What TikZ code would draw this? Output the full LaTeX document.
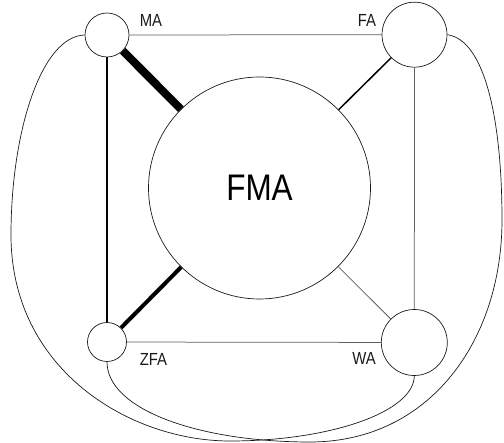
\documentclass[tikz,border=0pt]{standalone}
\usepackage{fontspec}
\setmainfont[FakeStretch=0.85]{Liberation Sans}
\usepackage{tikz}
\usetikzlibrary{calc}
\definecolor{ink}{HTML}{1A1A1A}
\definecolor{faint}{HTML}{5E5E5E}
\tikzset{
  agent/.style={circle, draw=ink, line width=0.7pt, fill=white, inner sep=0pt},
  hub/.style={circle, draw=ink, line width=0.7pt, fill=white, inner sep=0pt,
    minimum size=222pt, font=\fontsize{37}{37}\selectfont},
  tag/.style={text=ink, font=\fontsize{17.5}{17.5}\selectfont, inner sep=0pt},
  weak/.style={draw=faint, line width=0.75pt},
  medium/.style={draw=black, line width=1.5pt},
  heavy/.style={draw=black, line width=4pt},
  strong/.style={draw=black, line width=8pt},
  arcline/.style={draw=ink, line width=0.7pt}
}

\begin{document}
\begin{tikzpicture}[x=1pt, y=-1pt]
  \useasboundingbox (0,0) rectangle (504,443);

  \node[hub] (FMA) at (259.5,188) {FMA};
  \node[agent, minimum size=44pt] (MA) at (107,35) {};
  \node[agent, minimum size=65pt] (FA) at (414.5,34.7) {};
  \node[agent, minimum size=39pt] (ZFA) at (107,342) {};
  \node[agent, minimum size=66pt] (WA) at (414.3,342.5) {};

  \node[tag] (MAtag) at (151,20) {MA};
  \node[tag] (FAtag) at (367,20) {FA};
  \node[tag] (ZFAtag) at (153.5,359) {ZFA};
  \node[tag] (WAtag) at (364,358) {WA};

  % links between the circles
  \draw[weak] (MA) -- (FA);
  \draw[weak] (FA) -- (WA);
  \draw[weak] (ZFA) -- (WA);
  \draw[weak] (WA) -- (FMA);
  \draw[medium] (MA) -- (ZFA);
  \draw[medium] (FA) -- (FMA);
  \draw[heavy] (ZFA) -- (FMA);
  \draw[strong] (MA) -- (FMA);

  % the two long loops round the outside
  \draw[arcline] (MA.west) .. controls (42,36) and (11,130) .. (11,235)
    .. controls (11,370) and (130,441) .. (230,441)
    .. controls (330,441) and (414,412) .. (WA.south);
  \draw[arcline] (ZFA.south) .. controls (107,410) and (200,442) .. (310,442)
    .. controls (430,442) and (502,340) .. (502,220)
    .. controls (502,120) and (485,40) .. (FA.east);
\end{tikzpicture}
\end{document}
